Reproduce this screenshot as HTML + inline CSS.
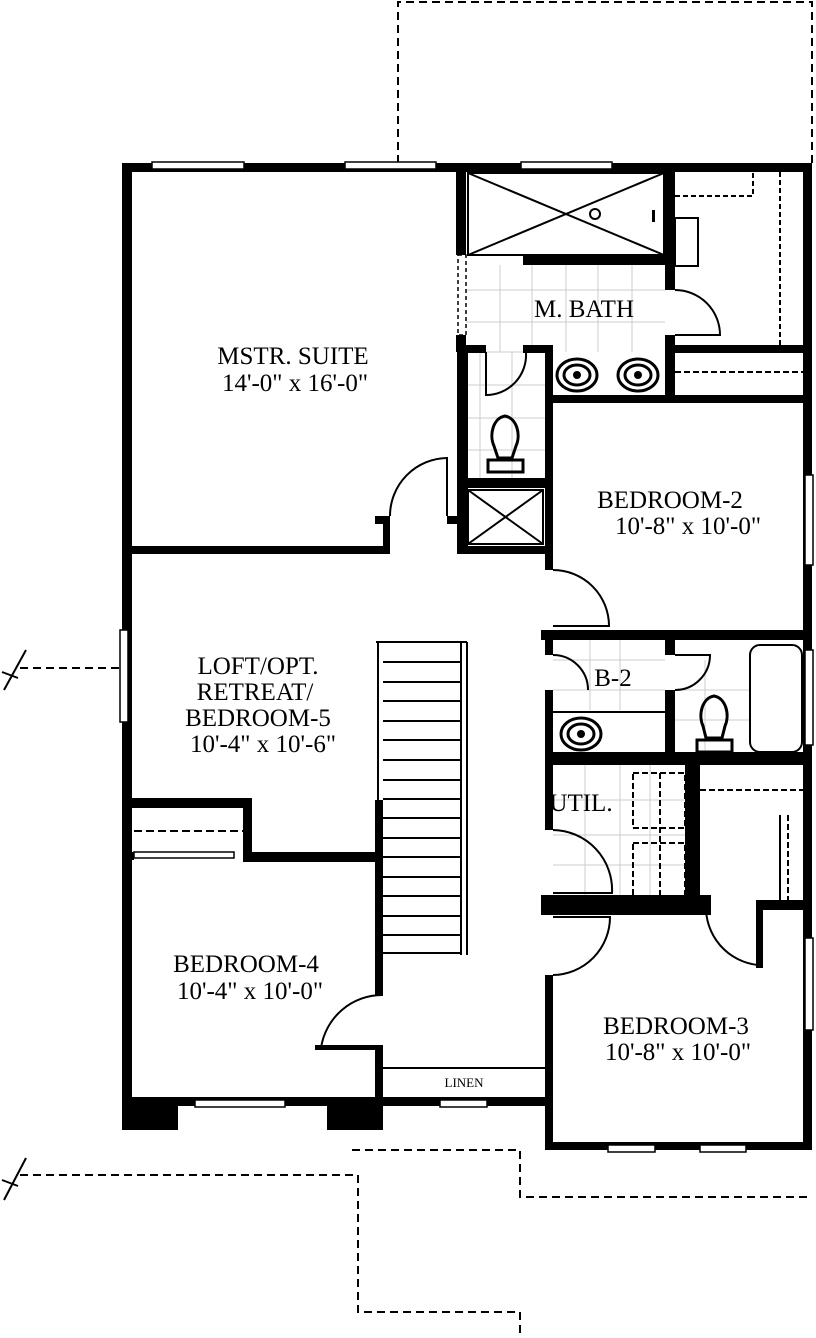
<!DOCTYPE html>
<html><head><meta charset="utf-8"><style>
html,body{margin:0;padding:0;background:#fff}
svg{display:block}
text{font-family:"Liberation Serif",serif;fill:#000}
</style></head><body>
<svg width="816" height="1338" viewBox="0 0 816 1338" xmlns="http://www.w3.org/2000/svg">
<g fill="none" stroke="#000" stroke-width="2" stroke-dasharray="8,5">
<path d="M398,163 V2 H812 V163"/>
<path d="M20,668 H122"/>
<path d="M20,1175 H358 V1312 H520 V1338"/>
<path d="M352,1150 H520 V1197 H812"/>
</g>
<g stroke="#000" stroke-width="2"><path d="M4,690 L26,650 M2,672 L18,678"/><path d="M4,1200 L26,1158 M2,1180 L18,1186"/></g>
<g stroke="#ccc" stroke-width="1">
<path d="M466,290 H665 M466,322 H665 M466,352 H545 M466,385 H545 M466,418 H545 M466,450 H545 M500,265 V352 M532,265 V345 M566,265 V352 M598,265 V352 M632,265 V352 M480,352 V478 M512,352 V478"/>
<path d="M553,660 H665 M553,690 H665 M590,640 V710 M620,640 V710 M675,690 H750 M675,720 H750 M705,660 V750"/>
<path d="M553,800 H685 M553,835 H685 M553,865 H685 M585,765 V895 M620,765 V895 M650,765 V895"/>
</g>
<g fill="#000">
<rect x="122" y="163" width="690" height="9"/>
<rect x="122" y="163" width="10" height="967"/>
<rect x="803" y="163" width="9" height="987"/>
<rect x="122" y="1097" width="431" height="9"/>
<rect x="122" y="1097" width="56" height="33"/>
<rect x="327" y="1097" width="56" height="33"/>
<rect x="545" y="1142" width="267" height="8"/>
<rect x="545" y="975" width="8" height="175"/>
<rect x="122" y="546" width="268" height="8"/>
<rect x="383" y="516" width="7" height="38"/>
<rect x="375" y="516" width="15" height="8"/>
<rect x="447" y="516" width="10" height="8"/>
<rect x="456" y="163" width="10" height="92"/>
<rect x="456" y="335" width="10" height="17"/>
<rect x="457" y="345" width="11" height="209"/>
<rect x="466" y="345" width="20" height="8"/>
<rect x="523" y="345" width="30" height="8"/>
<rect x="523" y="256" width="152" height="9"/>
<rect x="665" y="171" width="10" height="119"/>
<rect x="665" y="335" width="10" height="60"/>
<rect x="665" y="345" width="138" height="8"/>
<rect x="545" y="345" width="8" height="225"/>
<rect x="545" y="395" width="258" height="8"/>
<rect x="457" y="478" width="96" height="10"/>
<rect x="457" y="546" width="96" height="8"/>
<rect x="541" y="630" width="262" height="10"/>
<rect x="545" y="640" width="8" height="15"/>
<rect x="545" y="690" width="8" height="70"/>
<rect x="665" y="640" width="10" height="15"/>
<rect x="665" y="690" width="10" height="70"/>
<rect x="545" y="752" width="258" height="13"/>
<rect x="545" y="765" width="8" height="65"/>
<rect x="685" y="765" width="15" height="145"/>
<rect x="541" y="895" width="170" height="20"/>
<rect x="760" y="900" width="43" height="10"/>
<rect x="756" y="900" width="7" height="68"/>
<rect x="122" y="798" width="130" height="10"/>
<rect x="243" y="798" width="9" height="62"/>
<rect x="243" y="852" width="140" height="10"/>
<rect x="122" y="852" width="12" height="8"/>
<rect x="375" y="800" width="8" height="195"/>
<rect x="375" y="1050" width="8" height="56"/>
<rect x="315" y="1045" width="68" height="5"/>
</g>
<g fill="#fff" stroke="#000" stroke-width="1.5">
<rect x="152" y="162" width="92" height="7"/><rect x="345" y="162" width="91" height="7"/><rect x="521" y="162" width="91" height="7"/>
<rect x="120" y="630" width="8" height="92"/>
<rect x="805" y="475" width="8" height="90"/><rect x="805" y="650" width="8" height="95"/><rect x="805" y="938" width="8" height="92"/>
<rect x="195" y="1100" width="90" height="7"/><rect x="440" y="1100" width="47" height="7"/>
<rect x="608" y="1145" width="47" height="7"/><rect x="700" y="1145" width="46" height="7"/>
<rect x="134" y="852" width="100" height="6"/>
<rect x="458" y="255" width="8" height="80" stroke-dasharray="4,3"/>
</g>
<g fill="none" stroke="#000" stroke-width="2">
<rect x="468" y="173" width="196" height="82"/>
<path d="M468,173 L664,255 M664,173 L468,255"/>
<circle cx="595" cy="214" r="5" fill="#fff"/>
<rect x="675" y="218" width="23" height="48"/>
<path d="M675,196 H753 V172" stroke-dasharray="5,3"/>
<path d="M780,172 V345" stroke-dasharray="5,3"/>
<path d="M675,372 H803" stroke-dasharray="6,3"/>
<rect x="468" y="490" width="75" height="54"/><path d="M468,490 L543,544 M543,490 L468,544"/>
<path d="M447,516 V458 A58,58 0 0 0 390,516"/>
<path d="M675,290 A45,45 0 0 1 720,335 H675"/>
<path d="M486,352 V395 A40,40 0 0 0 526,353"/>
<path d="M553,570 A56,56 0 0 1 609,626 H553"/>
<path d="M553,655 A35,35 0 0 1 588,690"/>
<path d="M675,655 H710 A35,35 0 0 1 675,690"/>
<path d="M553,830 A60,60 0 0 1 612,893 H553"/>
<path d="M553,975 A58,58 0 0 0 610,917 H553"/>
<path d="M706,905 A58,58 0 0 0 758,965 V905"/>
<path d="M383,995 A62,62 0 0 0 321,1048 H383"/>
<g stroke-dasharray="6,3"><rect x="633" y="773" width="52" height="55"/><rect x="633" y="843" width="52" height="55"/><path d="M660,773 V898 M700,790 H803 M788,815 V900"/></g>
<path d="M780,815 V900"/>
<path d="M134,831 H243" stroke-dasharray="8,4"/>
<rect x="750" y="645" width="52" height="107" rx="10"/>
<path d="M553,712 H665"/>
<path d="M383,1068 H545"/>
<path d="M376,642 H467 M378,642 V800 M461,642 V955 M467,642 V955"/>
<path d="M383,662 H461 M383,682 H461 M383,701 H461 M383,721 H461 M383,740 H461 M383,760 H461 M383,780 H461 M383,799 H461 M383,818 H461 M383,838 H461 M383,857 H461 M383,877 H461 M383,896 H461 M383,916 H461 M383,935 H461 M383,953 H461"/>
</g>
<g fill="none" stroke="#000" stroke-width="3">
<ellipse cx="577" cy="375" rx="20" ry="16"/><ellipse cx="577" cy="375" rx="13" ry="10"/>
<ellipse cx="638" cy="375" rx="20" ry="16"/><ellipse cx="638" cy="375" rx="13" ry="10"/>
<ellipse cx="581" cy="734" rx="20" ry="16"/><ellipse cx="581" cy="734" rx="13" ry="10"/>
<path d="M505,416 C493,418 489,435 494,446 L498,458 H512 L516,446 C521,435 517,418 505,416Z"/>
<rect x="488" y="460" width="35" height="12"/>
<path d="M714,696 C702,698 698,715 703,726 L706,738 H722 L725,726 C730,715 726,698 714,696Z"/>
<rect x="697" y="740" width="35" height="12"/>
</g>
<g fill="#000"><circle cx="577" cy="375" r="4"/><circle cx="638" cy="375" r="4"/><circle cx="581" cy="734" r="4"/><rect x="652" y="210" width="3" height="12"/></g>
<g font-size="25" text-anchor="middle">
<text x="293" y="364">MSTR. SUITE</text><text x="295" y="391">14'-0" x 16'-0"</text>
<text x="584" y="317">M. BATH</text>
<text x="670" y="508">BEDROOM-2</text><text x="688" y="534">10'-8" x 10'-0"</text>
<text x="258" y="674">LOFT/OPT.</text><text x="255" y="700">RETREAT/</text><text x="258" y="726">BEDROOM-5</text><text x="263" y="752">10'-4" x 10'-6"</text>
<text x="613" y="686">B-2</text>
<text x="581" y="811">UTIL.</text>
<text x="246" y="972">BEDROOM-4</text><text x="250" y="999">10'-4" x 10'-0"</text>
<text x="676" y="1034">BEDROOM-3</text><text x="678" y="1060">10'-8" x 10'-0"</text>
<text x="464" y="1087" font-size="13">LINEN</text>
</g>
</svg>
</body></html>
